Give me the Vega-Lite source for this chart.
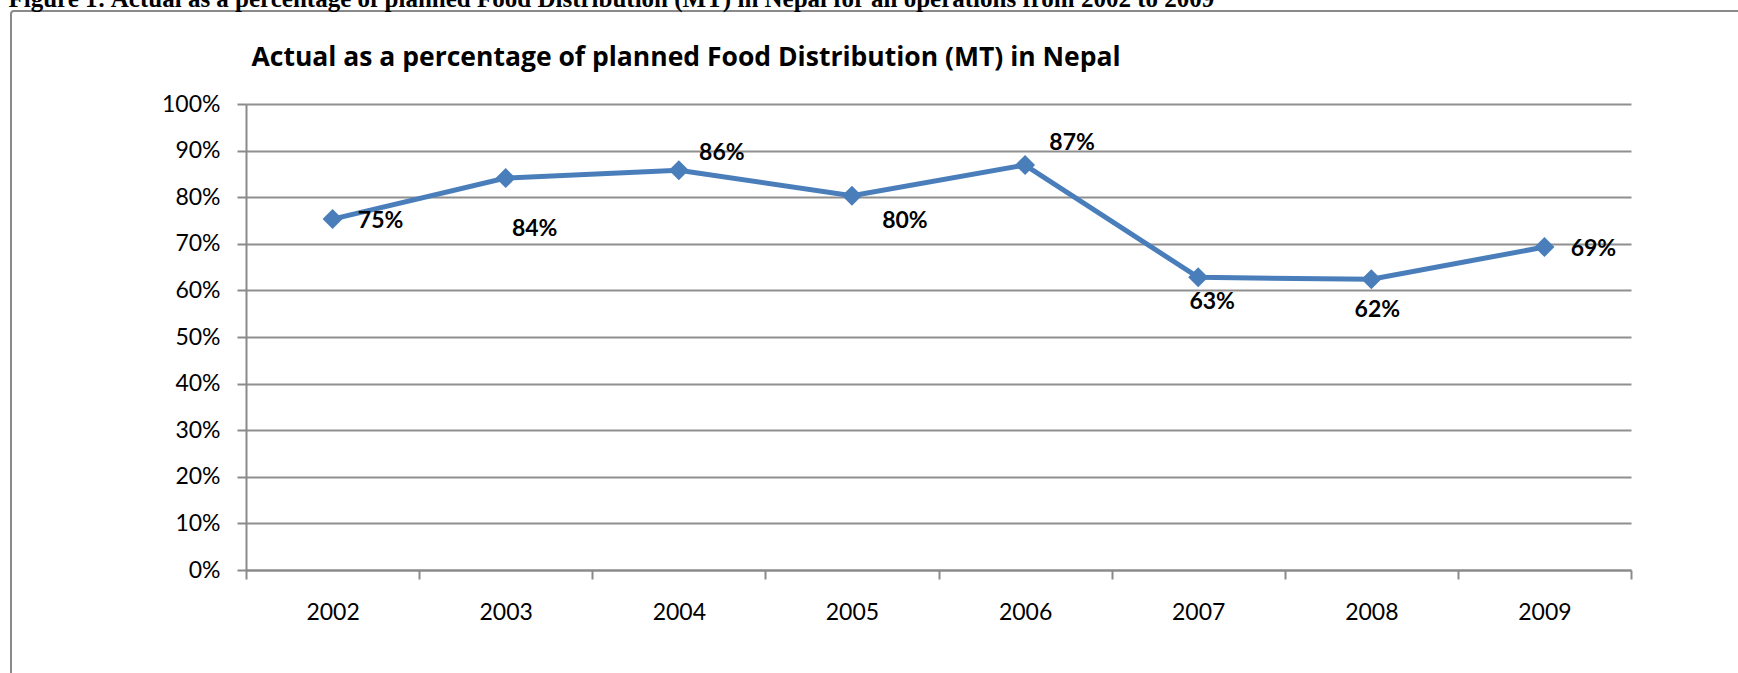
{
  "$schema": "https://vega.github.io/schema/vega-lite/v6.json",
  "width": 1740,
  "height": 670,
  "autosize": {"type": "none"},
  "padding": {"left": 11, "top": 11, "right": 0, "bottom": 0},
  "background": "white",
  "config": {
    "view": {"stroke": "#8a8a8a", "strokeWidth": 2, "cornerRadius": 3},
    "font": "Lato"
  },
  "data": {
    "values": [
      {"year": "2002", "value": 0.753},
      {"year": "2003", "value": 0.841},
      {"year": "2004", "value": 0.858},
      {"year": "2005", "value": 0.803},
      {"year": "2006", "value": 0.869},
      {"year": "2007", "value": 0.628},
      {"year": "2008", "value": 0.624},
      {"year": "2009", "value": 0.693}
    ]
  },
  "encoding": {
    "x": {
      "field": "year",
      "type": "ordinal",
      "scale": {"type": "band", "paddingInner": 0, "paddingOuter": 0, "range": [235, 1620]},
      "axis": {
        "offset": -111,
        "title": "Figure 1: Actual as a percentage of planned Food Distribution (MT) in Nepal for all operations from 2002 to 2009",
        "titleFont": "Liberation Serif",
        "titleFontWeight": "bold",
        "titleFontSize": 25,
        "titleColor": "#000000",
        "titleAngle": 0,
        "titleAlign": "left",
        "titleBaseline": "alphabetic",
        "titleX": -3,
        "titleY": -564,
        "labelAngle": 0,
        "labelFont": "Lato",
        "labelFontSize": 23,
        "labelColor": "#000000",
        "labelPadding": 22,
        "tickBand": "extent",
        "tickSize": 9,
        "tickWidth": 2,
        "tickColor": "#8a8a8a",
        "domainColor": "#8a8a8a",
        "domainWidth": 2,
        "grid": false
      }
    },
    "y": {
      "field": "value",
      "type": "quantitative",
      "scale": {"domain": [0, 1], "nice": false, "zero": true, "range": [559, 93]},
      "axis": {
        "offset": -235,
        "values": [0, 0.1, 0.2, 0.3, 0.4, 0.5, 0.6, 0.7, 0.8, 0.9, 1],
        "format": ".0%",
        "title": "Actual as a percentage of planned Food Distribution (MT) in Nepal",
        "titleFont": "Open Sans",
        "titleFontWeight": "bold",
        "titleFontSize": 26.5,
        "titleColor": "#000000",
        "titleAngle": 0,
        "titleAlign": "left",
        "titleBaseline": "alphabetic",
        "titleX": 5,
        "titleY": 54,
        "labelFont": "Lato",
        "labelFontSize": 23,
        "labelColor": "#000000",
        "labelPadding": 17,
        "tickSize": 9,
        "tickWidth": 2,
        "tickColor": "#8a8a8a",
        "domainColor": "#8a8a8a",
        "domainWidth": 2,
        "grid": true,
        "gridColor": "#8f8f8f",
        "gridWidth": 2
      }
    }
  },
  "layer": [
    {
      "mark": {
        "type": "line",
        "color": "#4A7EBB",
        "strokeWidth": 5,
        "point": {"shape": "diamond", "size": 400, "filled": true, "color": "#4A7EBB", "opacity": 1}
      }
    },
    {
      "transform": [{"filter": "datum.year == '2002'"}],
      "mark": {"type": "text", "font": "Lato", "fontWeight": "bold", "fontSize": 23, "color": "#000000", "align": "center", "baseline": "middle", "dx": 48, "dy": 2},
      "encoding": {"text": {"field": "value", "type": "quantitative", "format": ".0%"}}
    },
    {
      "transform": [{"filter": "datum.year == '2003'"}],
      "mark": {"type": "text", "font": "Lato", "fontWeight": "bold", "fontSize": 23, "color": "#000000", "align": "center", "baseline": "middle", "dx": 29, "dy": 51},
      "encoding": {"text": {"field": "value", "type": "quantitative", "format": ".0%"}}
    },
    {
      "transform": [{"filter": "datum.year == '2004'"}],
      "mark": {"type": "text", "font": "Lato", "fontWeight": "bold", "fontSize": 23, "color": "#000000", "align": "center", "baseline": "middle", "dx": 43, "dy": -17},
      "encoding": {"text": {"field": "value", "type": "quantitative", "format": ".0%"}}
    },
    {
      "transform": [{"filter": "datum.year == '2005'"}],
      "mark": {"type": "text", "font": "Lato", "fontWeight": "bold", "fontSize": 23, "color": "#000000", "align": "center", "baseline": "middle", "dx": 53, "dy": 25},
      "encoding": {"text": {"field": "value", "type": "quantitative", "format": ".0%"}}
    },
    {
      "transform": [{"filter": "datum.year == '2006'"}],
      "mark": {"type": "text", "font": "Lato", "fontWeight": "bold", "fontSize": 23, "color": "#000000", "align": "center", "baseline": "middle", "dx": 47, "dy": -22},
      "encoding": {"text": {"field": "value", "type": "quantitative", "format": ".0%"}}
    },
    {
      "transform": [{"filter": "datum.year == '2007'"}],
      "mark": {"type": "text", "font": "Lato", "fontWeight": "bold", "fontSize": 23, "color": "#000000", "align": "center", "baseline": "middle", "dx": 14, "dy": 25},
      "encoding": {"text": {"field": "value", "type": "quantitative", "format": ".0%"}}
    },
    {
      "transform": [{"filter": "datum.year == '2008'"}],
      "mark": {"type": "text", "font": "Lato", "fontWeight": "bold", "fontSize": 23, "color": "#000000", "align": "center", "baseline": "middle", "dx": 6, "dy": 31},
      "encoding": {"text": {"field": "value", "type": "quantitative", "format": ".0%"}}
    },
    {
      "transform": [{"filter": "datum.year == '2009'"}],
      "mark": {"type": "text", "font": "Lato", "fontWeight": "bold", "fontSize": 23, "color": "#000000", "align": "center", "baseline": "middle", "dx": 49, "dy": 2},
      "encoding": {"text": {"field": "value", "type": "quantitative", "format": ".0%"}}
    }
  ]
}
